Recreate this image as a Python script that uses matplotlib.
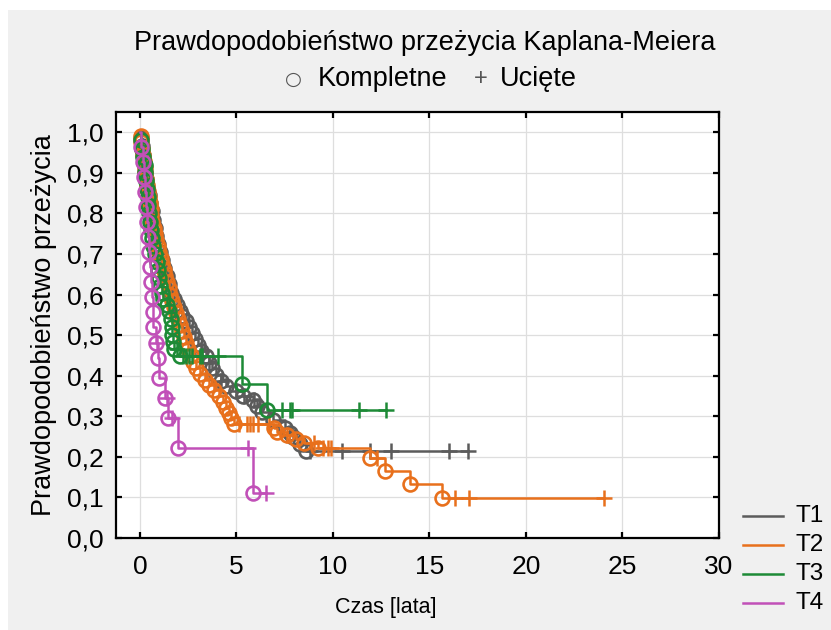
import numpy as np
import matplotlib
matplotlib.use("Agg")
import matplotlib.pyplot as plt
from matplotlib.lines import Line2D
from matplotlib.patches import Rectangle

plt.rcParams['font.family'] = ['Liberation Sans', 'DejaVu Sans']

# Kaplan-Meier step points: event times [lata] and survival after each event
t1_event_t = [0.04, 0.10, 0.15, 0.20, 0.26, 0.32, 0.38, 0.45, 0.52, 0.60, 0.68, 0.76,
              0.85, 0.95, 1.05, 1.15, 1.25, 1.38, 1.50, 1.62, 1.75, 1.90, 2.05, 2.20,
              2.40, 2.55, 2.70, 2.85, 3.00, 3.15, 3.40, 3.60, 3.75, 3.95, 4.20, 4.45,
              5.00, 5.35, 5.86, 6.04, 6.30, 6.90, 7.50, 7.80, 7.95, 8.30, 8.62]
t1_event_s = [0.985, 0.965, 0.945, 0.925, 0.905, 0.885, 0.865, 0.845, 0.825, 0.805, 0.785, 0.765,
              0.745, 0.725, 0.705, 0.685, 0.665, 0.645, 0.625, 0.605, 0.590, 0.575, 0.560, 0.548,
              0.535, 0.520, 0.505, 0.490, 0.475, 0.462, 0.448, 0.432, 0.418, 0.402, 0.388, 0.374,
              0.362, 0.350, 0.340, 0.325, 0.310, 0.292, 0.272, 0.260, 0.248, 0.231, 0.214]
t1_cens_t = [3.2, 3.6, 4.2, 5.0, 5.4, 5.9, 6.2, 8.8, 10.49, 11.9, 13.0, 16.0, 16.98]

t2_event_t = [0.03, 0.08, 0.12, 0.16, 0.20, 0.24, 0.28, 0.33, 0.37, 0.41, 0.45, 0.50,
              0.55, 0.59, 0.65, 0.71, 0.78, 0.85, 0.92, 1.00, 1.07, 1.15, 1.23, 1.30,
              1.38, 1.48, 1.58, 1.68, 1.78, 1.88, 1.98, 2.08, 2.20, 2.30, 2.40, 2.50,
              2.62, 2.75, 2.90, 3.10, 3.35, 3.60, 3.85, 4.10, 4.30, 4.45, 4.60, 4.70,
              4.85, 6.95, 7.10, 7.60, 8.10, 8.50, 9.20, 11.90, 12.70, 13.97, 15.66]
t2_event_s = [0.990, 0.975, 0.960, 0.945, 0.930, 0.915, 0.900, 0.885, 0.870, 0.855, 0.840, 0.825,
              0.810, 0.795, 0.780, 0.765, 0.750, 0.735, 0.720, 0.705, 0.690, 0.675, 0.660, 0.645,
              0.630, 0.615, 0.600, 0.585, 0.570, 0.555, 0.540, 0.525, 0.510, 0.495, 0.480, 0.465,
              0.450, 0.435, 0.420, 0.405, 0.390, 0.378, 0.365, 0.350, 0.335, 0.320, 0.308, 0.295,
              0.280, 0.271, 0.262, 0.253, 0.243, 0.234, 0.222, 0.198, 0.165, 0.132, 0.099]
t2_cens_t = [5.15, 5.55, 5.7, 5.85, 6.1, 6.7, 7.6, 9.0, 9.5, 9.75, 9.9, 12.3, 16.3, 17.04, 24.06]

t3_event_t = [0.05, 0.12, 0.18, 0.24, 0.28, 0.32, 0.36, 0.40, 0.43, 0.47, 0.52, 0.56,
              0.60, 0.68, 0.78, 0.86, 0.95, 1.00, 1.05, 1.15, 1.22, 1.40, 1.50, 1.62,
              1.65, 1.68, 1.72, 1.75, 2.10, 5.30, 6.59]
t3_event_s = [0.980, 0.960, 0.940, 0.920, 0.900, 0.880, 0.860, 0.840, 0.820, 0.800, 0.780, 0.760,
              0.740, 0.720, 0.700, 0.680, 0.660, 0.640, 0.620, 0.605, 0.590, 0.575, 0.560, 0.540,
              0.520, 0.500, 0.482, 0.465, 0.448, 0.380, 0.315]
t3_cens_t = [1.9, 2.25, 2.4, 2.55, 2.7, 3.1, 3.2, 4.05, 7.38, 7.8, 7.88, 11.35, 12.73]

t4_event_t = [0.08, 0.14, 0.21, 0.26, 0.31, 0.35, 0.43, 0.48, 0.52, 0.57, 0.60, 0.66,
              0.69, 0.83, 0.93, 0.97, 1.29, 1.46, 1.98, 5.86]
t4_event_s = [0.963, 0.926, 0.889, 0.852, 0.815, 0.778, 0.741, 0.704, 0.667, 0.630, 0.593, 0.556,
              0.519, 0.481, 0.444, 0.395, 0.346, 0.296, 0.222, 0.111]
t4_cens_t = [0.88, 1.38, 1.64, 5.6, 6.55]

groups = ["T1", "T2", "T3", "T4"]
colors = ["#5b5b5b", "#e8701c", "#1d8a36", "#c150b8"]
curves = [
    (t1_event_t, t1_event_s, t1_cens_t),
    (t2_event_t, t2_event_s, t2_cens_t),
    (t3_event_t, t3_event_s, t3_cens_t),
    (t4_event_t, t4_event_s, t4_cens_t),
]

title = "Prawdopodobieństwo przeżycia Kaplana-Meiera"
y_label = "Prawdopodobieństwo przeżycia"
x_label = "Czas [lata]"
x_ticks = [0, 5, 10, 15, 20, 25, 30]
y_ticks = [0.0, 0.1, 0.2, 0.3, 0.4, 0.5, 0.6, 0.7, 0.8, 0.9, 1.0]


def step_value(ev_t, ev_s, t):
    # survival level at time t from the step points
    s = 1.0
    for et, es in zip(ev_t, ev_s):
        if et <= t:
            s = es
    return s


fig = plt.figure(figsize=(8.31, 6.3), dpi=100, facecolor="white")
fig.patches.append(Rectangle((8 / 831, 0), 1, 1 - 10 / 630, transform=fig.transFigure,
                             facecolor="#f0f0f0", edgecolor="none", zorder=-10))

ax = fig.add_axes([116 / 831, 1 - 538 / 630, (719 - 116) / 831, (538 - 112) / 630])
ax.set_facecolor("white")

for i, ((ev_t, ev_s, cens_t), col) in enumerate(zip(curves, colors)):
    last_t = max(ev_t + cens_t)
    xs = [0.0] + list(ev_t) + [last_t]
    ys = [1.0] + list(ev_s) + [ev_s[-1]]
    ax.step(xs, ys, where="post", color=col, lw=1.8, zorder=2 + i)
    ax.plot(ev_t, ev_s, linestyle="none", marker="o", ms=10, mfc="none",
            mec=col, mew=1.9, zorder=2 + i)
    cens_s = [step_value(ev_t, ev_s, c) for c in cens_t]
    ax.plot(cens_t, cens_s, linestyle="none", marker="+", ms=12, mec=col,
            mew=1.8, zorder=2 + i)

ax.set_xlim(-1.24, 30)
ax.set_ylim(0, 1.05)
ax.set_xticks(x_ticks)
ax.set_yticks(y_ticks)
ax.set_xticklabels([str(v) for v in x_ticks])
ax.set_yticklabels([f"{v:.1f}".replace(".", ",") for v in y_ticks])
ax.tick_params(axis="both", direction="in", length=4, width=1.6, colors="black",
               labelsize=19, top=True, right=True)
ax.tick_params(axis="x", pad=12)
ax.tick_params(axis="y", pad=9)
ax.grid(True, color="#dedede", lw=0.9, zorder=0)
for sp in ax.spines.values():
    sp.set_linewidth(1.6)
    sp.set_color("black")

ax.set_ylabel(y_label, fontsize=19.5, labelpad=7)
fig.text(386 / 831, 1 - 607 / 630, x_label, fontsize=15.5, ha="center", va="center")

fig.text(425 / 831, 1 - 43 / 630, title, fontsize=19.5, ha="center", va="center")
sub_y = 1 - 79 / 630
fig.text(293 / 831, sub_y, "○", fontsize=14, color="#555555", ha="center", va="center",
         family=["DejaVu Sans"])
fig.text(318 / 831, sub_y, "Kompletne", fontsize=19.5, ha="left", va="center")
fig.text(481 / 831, sub_y, "+", fontsize=17, color="#555555", ha="center", va="center")
fig.text(500 / 831, sub_y, "Ucięte", fontsize=19.5, ha="left", va="center")

# group key in the lower right corner
for k, (name, col) in enumerate(zip(groups, colors)):
    yy = 1 - (516 + k * 29) / 630
    fig.add_artist(Line2D([743 / 831, 783 / 831], [yy, yy], transform=fig.transFigure,
                          color=col, lw=1.8))
    fig.text(795 / 831, yy, name, fontsize=17.5, ha="left", va="center")

fig.savefig("out.png", dpi=100, facecolor=fig.get_facecolor())
